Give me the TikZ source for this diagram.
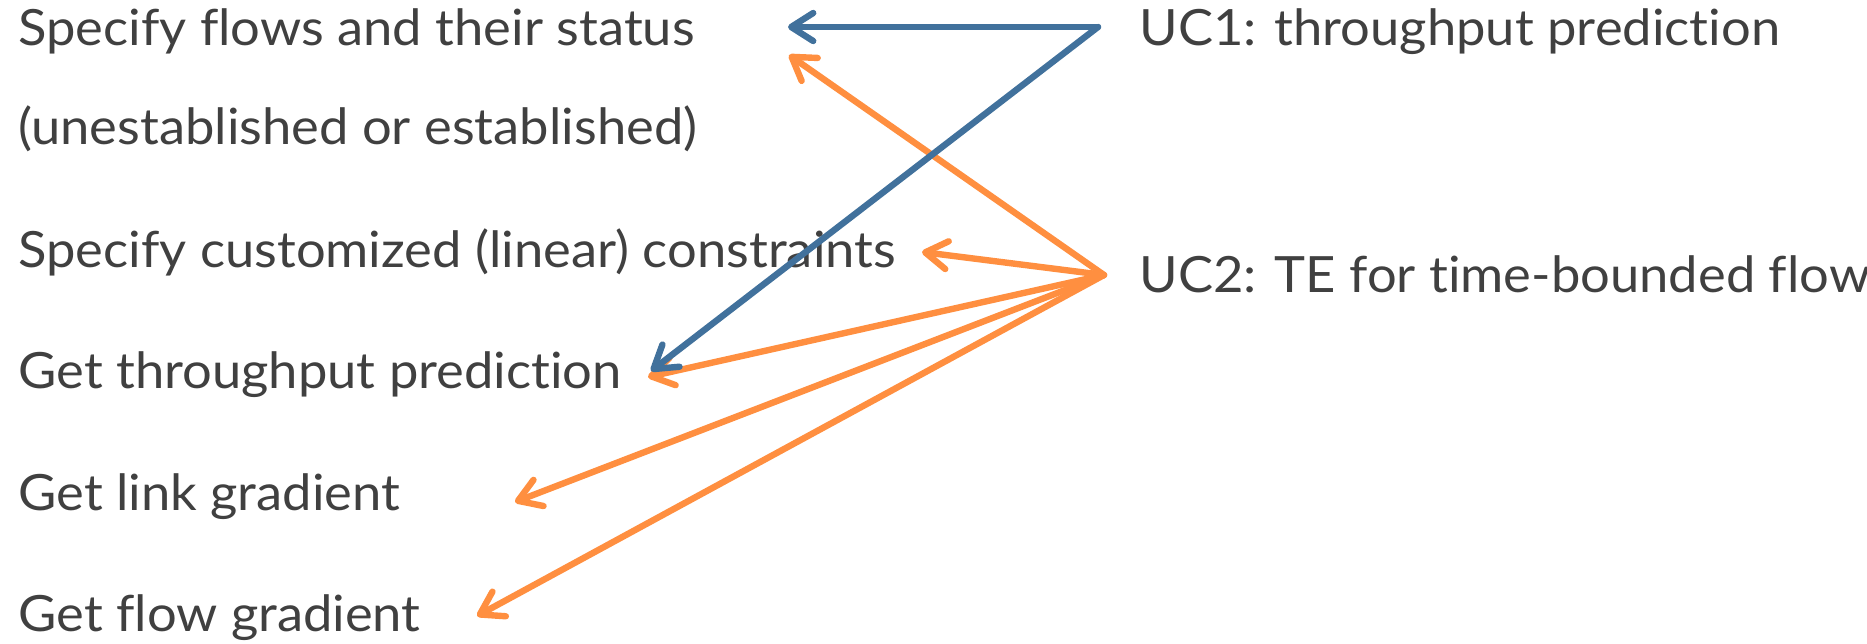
\documentclass[tikz,border=0pt]{standalone}
\usepackage{fontspec}
\setmainfont{Lato}[FakeStretch=1.05,Ligatures={NoCommon}]
\usetikzlibrary{arrows.meta}
\definecolor{ink}{RGB}{64,64,64}
\definecolor{ucblue}{RGB}{65,113,156}
\definecolor{ucorange}{RGB}{255,143,64}
\begin{document}
\begin{tikzpicture}[x=0.5pt,y=-0.5pt,
  lbl/.style={anchor=base west, inner sep=0pt, text=ink,
    font=\fontsize{25pt}{30pt}\selectfont},
  link/.style={line width=3.2pt, line cap=round, line join=round,
    -{Straight Barb[length=11pt,width=14pt,line cap=round,line join=round]}},
  uc1/.style={link, ucblue},
  uc2/.style={link, ucorange}]
\useasboundingbox (0,0) rectangle (1867,643);

% operations (left column)
\node[lbl] (flows)  at (18,45)  {Specify flows and their status};
\node[lbl] (status) at (18,144) {(unestablished or established)};
\node[lbl] (cons)   at (18,267) {Specify customized (linear) constraints};
\node[lbl] (thru)   at (18,388) {Get throughput prediction};
\node[lbl] (link)   at (18,510) {Get link gradient};
\node[lbl] (flow)   at (18,631) {Get flow gradient};

% use cases (right column)
\node[lbl] (ucA) at (1139,45)  {UC1: throughput prediction};
\node[lbl] (ucB) at (1139,292) {UC2: TE for time-bounded flow};

% arrow origins and tips
\coordinate (srcA) at (1098,27);
\coordinate (srcB) at (1104,275);
\coordinate (flowsA) at (788,27);
\coordinate (flowsB) at (789,55);
\coordinate (consB)  at (922,252);
\coordinate (thruA)  at (651,371);
\coordinate (thruB)  at (648,377);
\coordinate (linkB)  at (515,502);
\coordinate (flowB)  at (477,616);

% UC2 requirements
\draw[uc2] (srcB) -- (flowsB);
\draw[uc2] (srcB) -- (consB);
\draw[uc2] (srcB) -- (thruB);
\draw[uc2] (srcB) -- (linkB);
\draw[uc2] (srcB) -- (flowB);

% UC1 requirements
\draw[uc1] (srcA) -- (flowsA);
\draw[uc1] (srcA) -- (thruA);
\end{tikzpicture}
\end{document}
